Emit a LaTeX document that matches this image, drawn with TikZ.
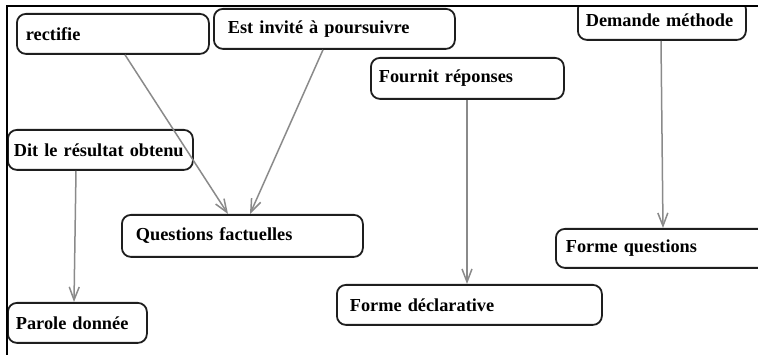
\documentclass[tikz,border=0pt]{standalone}
\usepackage{fontspec}
\setmainfont{Liberation Serif}
\usetikzlibrary{arrows.meta}
\definecolor{boxline}{HTML}{1E1E1E}
\definecolor{linkgray}{HTML}{8A8A8A}
\begin{document}
\begin{tikzpicture}[x=1pt,y=-1pt,
  box/.style={draw=boxline, line width=1.8pt, rounded corners=9pt, fill=white,
    anchor=north west, inner ysep=0pt, align=left,
    font=\fontsize{18.3}{20}\selectfont\bfseries},
  link/.style={draw=linkgray, line width=1.5pt,
    -{Straight Barb[length=13pt,width=10pt]}}]
\useasboundingbox (0,0) rectangle (758,355);
\begin{scope}
\clip (6,6) rectangle (758,355);
% boxes: position of the upper left corner, size and text inset
\node[box, minimum width=192, minimum height=40, inner xsep=9pt, text width=174pt] (rect) at (16,13) {rectifie};
\node[box, minimum width=241, minimum height=40, inner xsep=14pt, text width=213pt] (invite) at (213,8) {Est invité à poursuivre};
\node[box, minimum width=193, minimum height=41, inner xsep=8pt, text width=177pt] (fournit) at (370,57) {Fournit réponses};
\node[box, minimum width=168, minimum height=40, inner xsep=8pt, text width=152pt] (demande) at (577,-1) {Demande méthode};
\node[box, minimum width=185, minimum height=40, inner xsep=6pt, text width=173pt] (dit) at (7,129) {Dit le résultat obtenu};
\node[box, minimum width=241, minimum height=42, inner xsep=14pt, text width=213pt] (questions) at (121,214) {Questions factuelles};
\node[box, minimum width=139, minimum height=40, inner xsep=8pt, text width=123pt] (parole) at (7,302) {Parole donnée};
\node[box, minimum width=265, minimum height=40, inner xsep=13pt, text width=239pt] (declar) at (336,284) {Forme déclarative};
\node[box, minimum width=230, minimum height=39, inner xsep=10pt, text width=210pt] (formeq) at (555,228) {Forme questions};
% connectors
\draw[link] ([xshift=109pt]rect.south west) -- ([xshift=107pt]questions.north west);
\draw[link] ([xshift=110pt]invite.south west) -- ([xshift=129pt]questions.north west);
\draw[link] ([xshift=69pt]dit.south west) -- ([xshift=67pt]parole.north west);
\draw[link] ([xshift=97pt]fournit.south west) -- ([xshift=131pt]declar.north west);
\draw[link] ([xshift=84pt]demande.south west) -- ([xshift=108pt]formeq.north west);
\end{scope}
% frame along the top and left edges
\draw[line width=2pt, line cap=rect] (6.5,355) -- (6.5,6.5) -- (758,6.5);
\end{tikzpicture}
\end{document}
